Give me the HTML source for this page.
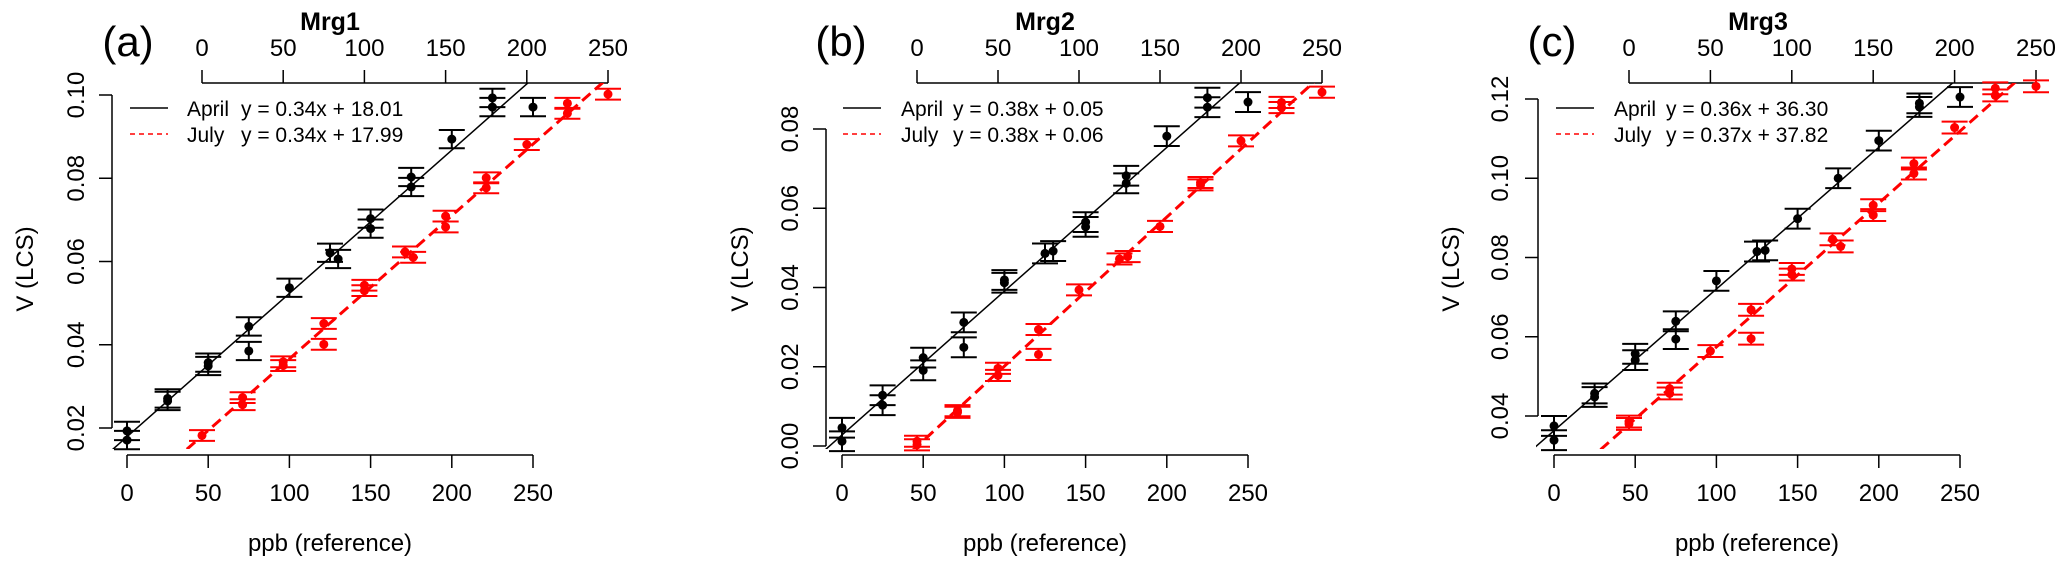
<!DOCTYPE html>
<html><head><meta charset="utf-8"><style>
html,body{margin:0;padding:0;background:#fff;}
svg{display:block;font-family:"Liberation Sans",sans-serif;}
</style></head><body>
<svg id="chart" width="2067" height="566" viewBox="0 0 2067 566" xmlns="http://www.w3.org/2000/svg"></svg>
<script>
// ---- Panel (a) Mrg1 ----
const aAprX = [0,0,25,25,50,50,75,75,100,125,130,150,150,175,175,200,225,225,250];
const aAprY = [0.0193,0.0171,0.0271,0.0265,0.0357,0.0349,0.0444,0.0385,0.0537,0.0621,0.0606,0.0703,0.0679,0.0803,0.0779,0.0894,0.0993,0.0971,0.0971];
const aJulX = [0,25,25,50,50,75,75,100,100,125,130,150,150,175,175,200,225,225,250];
const aJulY = [0.0182,0.0273,0.0256,0.0359,0.0350,0.0451,0.0401,0.0543,0.0530,0.0623,0.0610,0.0709,0.0683,0.0801,0.0777,0.0881,0.0980,0.0956,0.1002];
const aErr = [0.0022,0.0013];
const aYTicks = [0.02,0.04,0.06,0.08,0.10];
// ---- Panel (b) Mrg2 ----
const bAprX = [0,0,25,25,50,50,75,75,100,100,125,130,150,150,175,175,200,225,225,250];
const bAprY = [0.0046,0.0012,0.0128,0.0103,0.0223,0.0191,0.0312,0.0249,0.0419,0.0412,0.0486,0.0492,0.0565,0.0553,0.0682,0.0663,0.0782,0.0879,0.0855,0.0868];
const bJulX = [0,0,25,25,50,50,75,75,100,125,130,150,175,175,200,225,225,250];
const bJulY = [0.0012,0.0003,0.0089,0.0085,0.0196,0.0178,0.0294,0.0231,0.0394,0.0472,0.0478,0.0554,0.0665,0.0659,0.0770,0.0867,0.0854,0.0893];
const bErr = [0.0025,0.0014];
const bYTicks = [0.00,0.02,0.04,0.06,0.08];
// ---- Panel (c) Mrg3 ----
const cAprX = [0,0,25,25,50,50,75,75,100,125,130,150,175,200,225,225,250];
const cAprY = [0.0375,0.0339,0.0457,0.0448,0.0557,0.0541,0.0639,0.0594,0.0741,0.0815,0.0818,0.0898,0.1000,0.1095,0.1189,0.1180,0.1205];
const cJulX = [0,0,25,25,50,75,75,100,100,125,130,150,150,175,175,200,225,225,250];
const cJulY = [0.0386,0.0380,0.0469,0.0457,0.0564,0.0668,0.0595,0.0771,0.0757,0.0846,0.0828,0.0932,0.0907,0.1037,0.1012,0.1128,0.1227,0.1209,0.1232];
const cErr = [0.0025,0.0015];
const cYTicks = [0.04,0.06,0.08,0.10,0.12];
const xTicks = [0,50,100,150,200,250];
const panelLabels = ["(a)","(b)","(c)"];
const panelTitles = ["Mrg1","Mrg2","Mrg3"];
const aprilEq = ["y = 0.34x + 18.01","y = 0.38x + 0.05","y = 0.36x + 36.30"];
const julyEq = ["y = 0.34x + 17.99","y = 0.38x + 0.06","y = 0.37x + 37.82"];

const layouts = [
 {bx0:127,bx1:533,tx0:202,tx1:608,ax:112,yTop:95,yBot:428,lab:128,tickLabX:76,vX:25,ppbX:330,titleX:330,legL:130,legT:187,legE:241,clipR:622},
 {bx0:842,bx1:1248,tx0:917,tx1:1322,ax:826,yTop:129,yBot:446,lab:841,tickLabX:790,vX:740,ppbX:1045,titleX:1045,legL:843,legT:901,legE:953,clipR:1336},
 {bx0:1554,bx1:1960,tx0:1629,tx1:2036,ax:1538,yTop:99,yBot:416,lab:1552,tickLabX:1500,vX:1451,ppbX:1757,titleX:1758,legL:1556,legT:1614,legE:1666,clipR:2050}
];
const datasets = [
 {ax:aAprX,ay:aAprY,jx:aJulX,jy:aJulY,err:aErr,yt:aYTicks},
 {ax:bAprX,ay:bAprY,jx:bJulX,jy:bJulY,err:bErr,yt:bYTicks},
 {ax:cAprX,ay:cAprY,jx:cJulX,jy:cJulY,err:cErr,yt:cYTicks}
];
const NS="http://www.w3.org/2000/svg";
const svg=document.getElementById('chart');
function mk(tag,attrs,parent){const e=document.createElementNS(NS,tag);for(const k in attrs)e.setAttribute(k,attrs[k]);(parent||svg).appendChild(e);return e;}
function fit(xs,ys){const n=xs.length;let mx=0,my=0;for(let i=0;i<n;i++){mx+=xs[i];my+=ys[i];}mx/=n;my/=n;let sxy=0,sxx=0;for(let i=0;i<n;i++){sxy+=(xs[i]-mx)*(ys[i]-my);sxx+=(xs[i]-mx)**2;}const b=sxy/sxx;return {b:b,a:my-b*mx};}
const AXIS_TOP=83, AXIS_BOT=455, FS=24;
layouts.forEach((L,p)=>{
  const D=datasets[p];
  const g=mk('g',{});
  
  
  const t0=D.yt[0], t1=D.yt[D.yt.length-1];
  const sy=v=>L.yBot+(v-t0)*(L.yTop-L.yBot)/(t1-t0);
  const sxB=v=>L.bx0+v*(L.bx1-L.bx0)/250;
  const sxT=v=>L.tx0+v*(L.tx1-L.tx0)/250;
  const cp=mk('clipPath',{id:'clip'+p},g);
  mk('rect',{x:L.ax-2,y:AXIS_TOP,width:L.clipR-L.ax+2,height:AXIS_BOT-6-AXIS_TOP},cp);
  let e=mk('text',{x:L.lab,y:56,'font-size':42,'text-anchor':'middle'},g);e.textContent=panelLabels[p];
  
  
  e=mk('text',{x:L.titleX,y:30,'font-size':25,'font-weight':'bold','text-anchor':'middle'},g);e.textContent=panelTitles[p];
  
  
  const top=mk('g',{},g);
  
  
  mk('line',{x1:sxT(0),x2:sxT(250),y1:AXIS_TOP,y2:AXIS_TOP,stroke:'#000','stroke-width':1.5},top);
  xTicks.forEach(v=>{mk('line',{x1:sxT(v),x2:sxT(v),y1:AXIS_TOP,y2:AXIS_TOP-13,stroke:'#000','stroke-width':1.5},top);
    const t=mk('text',{x:sxT(v),y:56,'font-size':FS,'text-anchor':'middle'},top);t.textContent=v;});
  const bot=mk('g',{},g);
  
  
  mk('line',{x1:sxB(0),x2:sxB(250),y1:AXIS_BOT,y2:AXIS_BOT,stroke:'#000','stroke-width':1.5},bot);
  xTicks.forEach(v=>{mk('line',{x1:sxB(v),x2:sxB(v),y1:AXIS_BOT,y2:AXIS_BOT+13,stroke:'#000','stroke-width':1.5},bot);
    const t=mk('text',{x:sxB(v),y:501,'font-size':FS,'text-anchor':'middle'},bot);t.textContent=v;});
  const lf=mk('g',{},g);
  
  
  mk('line',{x1:L.ax,x2:L.ax,y1:sy(t0),y2:sy(t1),stroke:'#000','stroke-width':1.5},lf);
  D.yt.forEach(v=>{mk('line',{x1:L.ax,x2:L.ax-13,y1:sy(v),y2:sy(v),stroke:'#000','stroke-width':1.5},lf);
    const tx=L.tickLabX+8;
    const t=mk('text',{x:tx,y:sy(v),'font-size':FS,'text-anchor':'middle',transform:`rotate(-90 ${tx} ${sy(v)})`},lf);t.textContent=v.toFixed(2);});
  const vx=L.vX+8;
  e=mk('text',{x:vx,y:269,'font-size':FS,'text-anchor':'middle',transform:`rotate(-90 ${vx} 269)`},g);e.textContent='V (LCS)';
  
  
  e=mk('text',{x:L.ppbX,y:551,'font-size':FS,'text-anchor':'middle'},g);e.textContent='ppb (reference)';
  
  
  const fa=fit(D.ax,D.ay), fj=fit(D.jx,D.jy);
  const xa0=-30,xa1=300;
  e=mk('line',{x1:sxB(xa0),y1:sy(fa.a+fa.b*xa0),x2:sxB(xa1),y2:sy(fa.a+fa.b*xa1),stroke:'#000','stroke-width':1.5,'clip-path':`url(#clip${p})`},g);
  
  
  e=mk('line',{x1:sxT(xa0-50),y1:sy(fj.a+fj.b*(xa0-50)),x2:sxT(xa1),y2:sy(fj.a+fj.b*xa1),stroke:'#ff0000','stroke-width':3,'stroke-dasharray':'11,6','clip-path':`url(#clip${p})`},g);
  
  
  function pts(xs,ys,sx,err,col,name){
    xs.forEach((xv,i)=>{
      const cx=sx(xv), cy=sy(ys[i]), y1=sy(ys[i]+err), y2=sy(ys[i]-err);
      const pg=mk('g',{stroke:col,'stroke-width':2},g);
      
      
      mk('line',{x1:cx,x2:cx,y1:y1,y2:y2},pg);
      mk('line',{x1:cx-13,x2:cx+13,y1:y1,y2:y1},pg);
      mk('line',{x1:cx-13,x2:cx+13,y1:y2,y2:y2},pg);
      mk('circle',{cx:cx,cy:cy,r:4.5,fill:col,stroke:'none'},pg);
    });
  }
  pts(D.ax,D.ay,sxB,D.err[0],'#000','april-point');
  pts(D.jx,D.jy,sxT,D.err[1],'#ff0000','july-point');
  const lg=mk('g',{},g);
  
  
  mk('line',{x1:L.legL,x2:L.legL+38,y1:108,y2:108,stroke:'#000','stroke-width':1.5},lg);
  mk('line',{x1:L.legL,x2:L.legL+38,y1:134,y2:134,stroke:'#ff0000','stroke-width':1.5,'stroke-dasharray':'5,4'},lg);
  [['April',aprilEq[p],116],['July',julyEq[p],142]].forEach(r=>{
    let t=mk('text',{x:L.legT,y:r[2],'font-size':21},lg);t.textContent=r[0];
    t=mk('text',{x:L.legE,y:r[2],'font-size':21},lg);t.textContent=r[1];
  });
});
</script>
</body></html>
